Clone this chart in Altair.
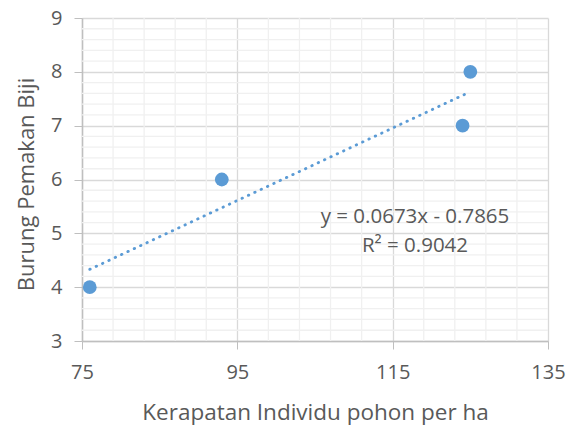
import altair as alt
import pandas as pd
import numpy as np

# data
pohon_per_ha = [76, 93, 124, 125]
burung = [4, 6, 7, 8]
eq_lines = ["y = 0.0673x - 0.7865", "R² = 0.9042"]

x_title = "Kerapatan Individu pohon per ha"
y_title = "Burung Pemakan Biji"

df = pd.DataFrame({"x": pohon_per_ha, "y": burung})

FONT = "Open Sans"
TXT = "#595959"
BLUE = "#5b9bd5"

xscale = alt.Scale(domain=[75, 135], nice=False, zero=False)
yscale = alt.Scale(domain=[3, 9], nice=False, zero=False)

xaxis = alt.Axis(values=[75, 95, 115, 135], grid=True, gridColor="#d9d9d9", gridWidth=1.3,
                 domainColor="#bfbfbf", domainWidth=1.5, tickColor="#bfbfbf", tickSize=8,
                 labelPadding=13, titlePadding=19, format="d", labelFlush=False)
yaxis = alt.Axis(values=[3, 4, 5, 6, 7, 8, 9], grid=True, gridColor="#d9d9d9", gridWidth=1.3,
                 domainColor="#bfbfbf", domainWidth=1.5, tickColor="#bfbfbf", tickSize=8,
                 labelPadding=12, titlePadding=12, format="d", labelFlush=False,
                 titleFontSize=22, titleY=166)

# minor grid values (exclude majors)
xminor = [v for v in np.arange(75, 135.01, 4).tolist() if (v - 75) % 20 != 0]
yminor = [round(v, 2) for v in np.arange(3, 9.001, 0.2).tolist() if abs(v - round(v)) > 1e-6]

vgrid = alt.Chart(pd.DataFrame({"x": xminor})).mark_rule(color="#f0f0f0", strokeWidth=1.3).encode(
    x=alt.X("x:Q", scale=xscale, title=x_title, axis=xaxis)
)
hgrid = alt.Chart(pd.DataFrame({"y": yminor})).mark_rule(color="#f0f0f0", strokeWidth=1.3).encode(
    y=alt.Y("y:Q", scale=yscale, title=y_title, axis=yaxis)
)

base = alt.Chart(df)

points = base.mark_circle(size=190, color=BLUE, opacity=1).encode(
    x=alt.X("x:Q", scale=xscale, title=x_title, axis=xaxis),
    y=alt.Y("y:Q", scale=yscale, title=y_title, axis=yaxis),
)

trend = base.transform_regression("x", "y", method="linear", extent=[76, 125]).mark_line(
    color=BLUE, strokeWidth=2.8, strokeDash=[0.5, 6.5], strokeCap="round"
).encode(
    x=alt.X("x:Q", scale=xscale, title=x_title, axis=xaxis),
    y=alt.Y("y:Q", scale=yscale, title=y_title, axis=yaxis),
)

eq1 = alt.Chart(pd.DataFrame({"t": [eq_lines[0]]})).mark_text(
    font=FONT, fontSize=20.5, color=TXT, align="center", baseline="middle"
).encode(text="t:N", x=alt.value(333), y=alt.value(199))
eq2 = alt.Chart(pd.DataFrame({"t": [eq_lines[1]]})).mark_text(
    font=FONT, fontSize=20.5, color=TXT, align="center", baseline="middle"
).encode(text="t:N", x=alt.value(333), y=alt.value(228))

chart = alt.layer(vgrid, hgrid, trend, points, eq1, eq2).properties(
    width=466, height=323,
    autosize=alt.AutoSizeParams(type="none"),
    padding={"left": 74, "top": 10, "right": 18, "bottom": 84},
).configure_view(stroke=None).configure_axis(
    labelFont=FONT, titleFont=FONT, labelFontSize=20, titleFontSize=22.5,
    labelColor=TXT, titleColor=TXT, titleFontWeight="normal",
)

chart.save("out.html", embed_options={"renderer": "svg", "actions": False})
